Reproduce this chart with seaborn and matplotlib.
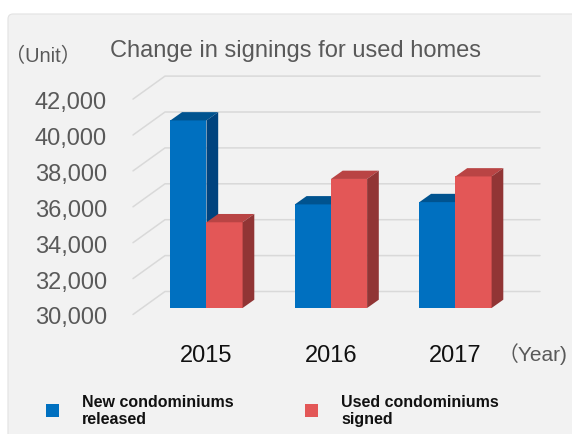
import numpy as np
import pandas as pd
import seaborn as sns
import matplotlib.pyplot as plt
from matplotlib import transforms as mtransforms
from matplotlib.patches import Polygon, FancyBboxPatch
from matplotlib.lines import Line2D

# ---------------- data ----------------
years = ["2015", "2016", "2017"]
series_names = ["New condominiums\nreleased", "Used condominiums\nsigned"]
new_released = [40449, 35772, 35898]
used_signed = [34776, 37189, 37329]
y_ticks = [30000, 32000, 34000, 36000, 38000, 40000, 42000]
y_tick_labels = [f"{v:,}" for v in y_ticks]

title = "Change in signings for used homes"
unit_label = "（Unit）"
year_label = "（Year)"

front_colors = ["#0070C0", "#E35757"]
top_colors = ["#00538F", "#B94444"]
side_colors = ["#00437E", "#913535"]

df = pd.DataFrame({
    "Year": years * 2,
    "Value": new_released + used_signed,
    "Series": [series_names[0]] * len(years) + [series_names[1]] * len(years),
})

# ---------------- style ----------------
sns.set_theme(style="white")
plt.rcParams["font.family"] = ["Liberation Sans", "Noto Sans CJK JP", "DejaVu Sans"]

W, H, DPI = 572, 435, 100
fig = plt.figure(figsize=(W / DPI, H / DPI), dpi=DPI, facecolor="white")

panel = FancyBboxPatch((0.08, -0.2), 6.0, 4.40,
                       boxstyle="round,pad=0,rounding_size=0.05",
                       transform=fig.dpi_scale_trans, facecolor="#f2f2f2",
                       edgecolor="#e2e2e2", linewidth=0.8, zorder=-10)
fig.patches.append(panel)

ax_left, ax_bottom, ax_w, ax_h = 142, 126, 375, 215.4
ax = fig.add_axes([ax_left / W, ax_bottom / H, ax_w / W, ax_h / H])
ax.set_facecolor("none")

sns.barplot(data=df, x="Year", y="Value", hue="Series", palette=front_colors,
            width=0.58, saturation=1, linewidth=0, ax=ax)

ax.set_xlim(-0.518, 2.494)
ax.set_ylim(y_ticks[0], y_ticks[-1])
xl, xr = ax.get_xlim()
yb, yt = ax.get_ylim()
dx_px = (xr - xl) / ax_w          # data units per pixel (x)
dy_px = (yt - yb) / ax_h          # data units per pixel (y)

# depth offsets in pixels
FRONT = (-9, -6.5)
BACK = (23, 16.5)
DEPTH = (11.7, 8.3)

# pseudo-3D gridlines
for v in y_ticks:
    xs = [xl + FRONT[0] * dx_px, xl + BACK[0] * dx_px, xr + BACK[0] * dx_px]
    ys = [v + FRONT[1] * dy_px, v + BACK[1] * dy_px, v + BACK[1] * dy_px]
    ax.add_line(Line2D(xs, ys, color="#d9d9d9", lw=1.1, clip_on=False, zorder=1))

# pseudo-3D bars
ddx, ddy = DEPTH[0] * dx_px, DEPTH[1] * dy_px
for i, cont in enumerate(ax.containers):
    for bar in cont:
        z = 3 + i
        bar.set_zorder(z)
        x0, w, h = bar.get_x(), bar.get_width(), bar.get_height()
        top = Polygon([(x0, h), (x0 + ddx, h + ddy), (x0 + w + ddx, h + ddy), (x0 + w, h)],
                      closed=True, facecolor=top_colors[i], edgecolor="none", zorder=z)
        side = Polygon([(x0 + w, h), (x0 + w + ddx, h + ddy), (x0 + w + ddx, yb + ddy), (x0 + w, yb)],
                       closed=True, facecolor=side_colors[i], edgecolor="none", zorder=z)
        ax.add_patch(top)
        ax.add_patch(side)

# axes cosmetics
for s in ax.spines.values():
    s.set_visible(False)
ax.set_xlabel("")
ax.set_ylabel("")
ax.grid(False)
ax.set_yticks(y_ticks)
ax.set_yticklabels(y_tick_labels)
ax.tick_params(axis="y", length=0, pad=0, labelsize=17, labelcolor="#595959")
ax.tick_params(axis="x", length=0, pad=26, labelsize=17, labelcolor="#111111")
off = mtransforms.ScaledTranslation(-35 / DPI, -7 / DPI, fig.dpi_scale_trans)
for lab in ax.get_yticklabels():
    lab.set_transform(lab.get_transform() + off)

# legend
handles, labels = ax.get_legend_handles_labels()
ax.legend(handles, labels, ncol=2, frameon=False, loc="center left",
          bbox_to_anchor=(46 / W, 1 - 411 / H), bbox_transform=fig.transFigure,
          prop={"weight": "bold", "size": 11.5}, labelcolor="#111111",
          handlelength=0.81, handleheight=0.81, handletextpad=1.44,
          columnspacing=4.5, borderpad=0, borderaxespad=0)

# texts
fig.text(110 / W, 1 - 57 / H, title, ha="left", va="baseline", fontsize=17, color="#595959")
fig.text(5 / W, 1 - 56 / H, unit_label, ha="left", va="center", fontsize=14.5, color="#595959")
fig.text(498 / W, 1 - 354 / H, year_label, ha="left", va="center", fontsize=15, color="#595959")

fig.savefig("out.png", dpi=DPI)
